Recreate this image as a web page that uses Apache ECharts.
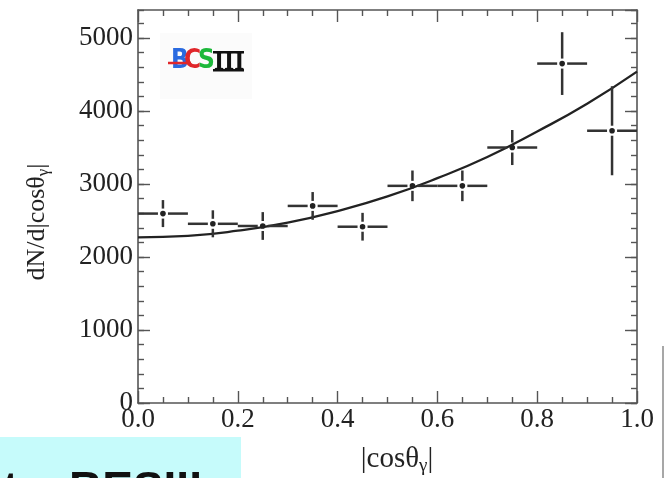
<!DOCTYPE html>
<html>
<head>
<meta charset="utf-8">
<script src="https://cdn.jsdelivr.net/npm/echarts@6/dist/echarts.min.js"></script>
<style>html,body{margin:0;padding:0;background:#fff;}#c{width:665px;height:478px;}</style>
</head>
<body>
<div id="c"></div>
<script>
// ---- data ----
const binCenters = [0.05, 0.15, 0.25, 0.35, 0.45, 0.55, 0.65, 0.75, 0.85, 0.95];
const binHalfWidth = [0.05, 0.05, 0.05, 0.05, 0.05, 0.05, 0.05, 0.05, 0.05, 0.05];
const counts = [2595, 2455, 2425, 2700, 2415, 2975, 2975, 3500, 4650, 3730];
const countErrors = [185, 185, 190, 190, 190, 210, 210, 240, 430, 610];
const fitX = [0.0, 0.1, 0.2, 0.3, 0.4, 0.5, 0.6, 0.7, 0.8, 0.9, 1.0];
const fitY = [2270, 2290, 2360, 2470, 2630, 2830, 3080, 3370, 3720, 4100, 4540];
const xTicks = [0.0, 0.2, 0.4, 0.6, 0.8, 1.0];
const yTicks = [0, 1000, 2000, 3000, 4000, 5000];
const yMax = 5384;

const chart = echarts.init(document.getElementById('c'), null, {renderer: 'canvas'});

const axisColor = '#555';
const textColor = '#222';
const serif = 'Liberation Serif';

const errData = binCenters.map((x, i) => [x, counts[i], binHalfWidth[i], countErrors[i]]);
const fitData = fitX.map((x, i) => [x, fitY[i]]);

function renderErr(params, api) {
  const x = api.value(0), y = api.value(1), ex = api.value(2), ey = api.value(3);
  const c = api.coord([x, y]);
  const l = api.coord([x - ex, y]);
  const r = api.coord([x + ex, y]);
  const t = api.coord([x, y + ey]);
  const b = api.coord([x, y - ey]);
  const gap = 5;
  const st = {stroke: '#333', lineWidth: 2.5};
  return {
    type: 'group',
    children: [
      {type: 'line', shape: {x1: l[0], y1: c[1], x2: c[0] - gap, y2: c[1]}, style: st},
      {type: 'line', shape: {x1: c[0] + gap, y1: c[1], x2: r[0], y2: c[1]}, style: st},
      {type: 'line', shape: {x1: c[0], y1: t[1], x2: c[0], y2: c[1] - gap}, style: st},
      {type: 'line', shape: {x1: c[0], y1: c[1] + gap, x2: c[0], y2: b[1]}, style: st},
      {type: 'circle', shape: {cx: c[0], cy: c[1], r: 2.8}, style: {fill: '#222'}}
    ]
  };
}

function xAxisDef(pos, showLabel) {
  return {
    type: 'value', position: pos, min: 0, max: 1, interval: 0.2,
    axisLine: {show: true, onZero: false, lineStyle: {color: axisColor, width: 1.6}},
    axisTick: {show: true, inside: true, length: 12, lineStyle: {color: axisColor, width: 1.4}},
    minorTick: {show: true, splitNumber: 4, length: 6, lineStyle: {color: axisColor, width: 1.4}},
    splitLine: {show: false},
    axisLabel: {
      show: showLabel, margin: 3, fontFamily: serif, fontSize: 27, color: textColor,
      formatter: v => xTicks.some(t => Math.abs(t - v) < 1e-9) ? v.toFixed(1) : ''
    }
  };
}
function yAxisDef(pos, interval, len, showLabel, showLine) {
  return {
    type: 'value', position: pos, min: 0, max: yMax, interval: interval,
    axisLine: {show: showLine, onZero: false, lineStyle: {color: axisColor, width: 1.6}},
    axisTick: {show: true, inside: true, length: len, lineStyle: {color: axisColor, width: 1.4}},
    splitLine: {show: false},
    axisLabel: {
      show: showLabel, showMaxLabel: false, margin: 5, fontFamily: serif, fontSize: 27, color: textColor,
      formatter: v => yTicks.indexOf(v) >= 0 ? String(v) : ''
    }
  };
}

const option = {
  backgroundColor: '#ffffff',
  animation: false,
  grid: {left: 138, right: 28, top: 10, bottom: 75},
  xAxis: [xAxisDef('bottom', true), xAxisDef('top', false)],
  yAxis: [
    yAxisDef('left', 1000, 12, true, true),
    yAxisDef('left', 200, 6, false, false),
    yAxisDef('right', 1000, 12, false, true),
    yAxisDef('right', 200, 6, false, false)
  ],
  series: [
    {
      type: 'line', data: fitData, smooth: true, showSymbol: false,
      lineStyle: {color: '#222', width: 2.3}, z: 3
    },
    {
      type: 'custom', renderItem: renderErr, data: errData,
      encode: {x: 0, y: 1}, z: 4
    }
  ],
  graphic: [
    // logo background
    {type: 'rect', shape: {x: 160, y: 33, width: 92, height: 66}, style: {fill: '#fbfbfb'}, z: 0, silent: true},
    {type: 'text', x: 171, y: 61, style: {text: 'B', fill: '#2a6ae0', font: 'bold 26px "DejaVu Sans Condensed", "DejaVu Sans"', textVerticalAlign: 'middle'}, z: 10},
    {type: 'text', x: 184, y: 61, style: {text: 'C', fill: '#e0262a', font: 'bold 26px "DejaVu Sans Condensed", "DejaVu Sans"', textVerticalAlign: 'middle'}, z: 10},
    {type: 'line', shape: {x1: 168, y1: 63, x2: 191, y2: 63}, style: {stroke: '#e0262a', lineWidth: 2.5}, z: 11},
    {type: 'text', x: 198, y: 61, style: {text: 'S', fill: '#1cb83a', font: 'bold 26px "DejaVu Sans Condensed", "DejaVu Sans"', textVerticalAlign: 'middle'}, z: 10},
    {type: 'text', x: 214, y: 62, style: {text: 'III', fill: '#111', font: 'bold 26px "Liberation Serif"', textVerticalAlign: 'middle'}, z: 10},
    {type: 'rect', shape: {x: 213, y: 51, width: 31, height: 2.5}, style: {fill: '#111'}, z: 10},
    {type: 'rect', shape: {x: 213, y: 69, width: 31, height: 2.5}, style: {fill: '#111'}, z: 10},
    // axis titles
    {
      type: 'text', x: 397, y: 459,
      style: {
        text: '{a||cosθ}{s|γ}{a||}', textAlign: 'center', textVerticalAlign: 'middle',
        rich: {
          a: {fontFamily: serif, fontSize: 29, fill: textColor, color: textColor},
          s: {fontFamily: serif, fontSize: 19, fill: textColor, color: textColor, padding: [14, 0, 0, 0]}
        }
      }
    },
    {
      type: 'text', x: 37, y: 222, rotation: Math.PI / 2,
      style: {
        text: '{a|dN/d|cosθ}{s|γ}{a||}', textAlign: 'center', textVerticalAlign: 'middle',
        rich: {
          a: {fontFamily: serif, fontSize: 26, fill: textColor, color: textColor},
          s: {fontFamily: serif, fontSize: 17, fill: textColor, color: textColor, padding: [13, 0, 0, 0]}
        }
      }
    },
    // bottom-left cyan box with cropped text
    {type: 'rect', shape: {x: 0, y: 437, width: 241, height: 41}, style: {fill: '#c6fbfb'}, z: 1},
    {type: 'text', x: 3, y: 468, style: {text: 't', fill: '#111', font: 'bold 46px "Liberation Sans"', textVerticalAlign: 'top'}, z: 2},
    {type: 'text', x: 69, y: 468, style: {text: 'BESIII', fill: '#111', font: 'bold 46px "Liberation Sans"', textVerticalAlign: 'top'}, z: 2},
    // right edge line
    {type: 'line', shape: {x1: 663, y1: 346, x2: 663, y2: 478}, style: {stroke: '#8a8a8a', lineWidth: 1.5}}
  ]
};
chart.setOption(option);
</script>
</body>
</html>
